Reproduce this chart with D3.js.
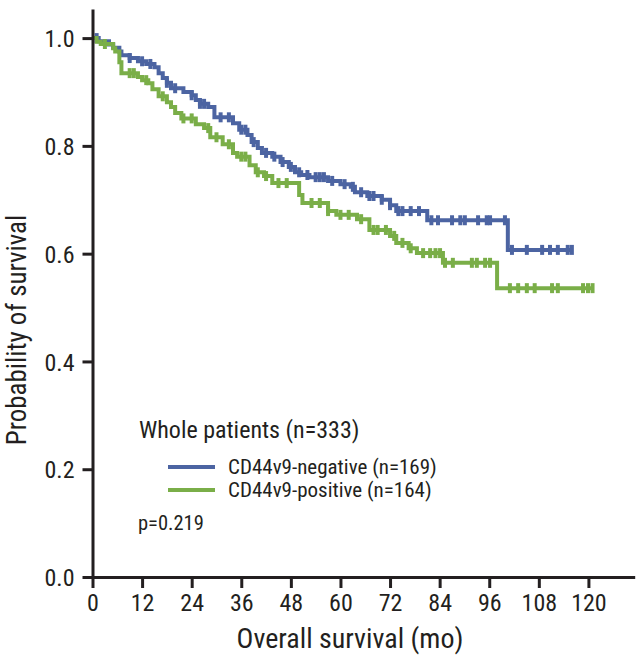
<!DOCTYPE html>
<html><head><meta charset="utf-8">
<script src="https://cdn.jsdelivr.net/npm/d3@7/dist/d3.min.js"></script>
<style>
html,body{margin:0;padding:0;background:#fff;}
svg text{font-family:"Liberation Sans Narrow","Arial Narrow","Roboto Condensed","Liberation Sans",sans-serif;fill:#231f20;}
</style></head>
<body><svg id="c" width="640" height="661"></svg>
<script>
// ---- data ----
const xTicks = [0,12,24,36,48,60,72,84,96,108,120];
const yTicks = [0,0.2,0.4,0.6,0.8,1.0];
const negativeSteps = [[0,1.0],[1.5,0.994],[4,0.988],[5,0.982],[6.5,0.975],[7,0.968],[9,0.963],[11,0.957],[13,0.952],[15,0.946],[16,0.935],[17,0.926],[18,0.917],[19,0.907],[22,0.9],[24,0.894],[25,0.885],[26,0.878],[28,0.872],[29.5,0.853],[34,0.842],[35.5,0.83],[37.5,0.82],[38.5,0.807],[40,0.796],[41,0.787],[43.5,0.78],[45.5,0.77],[47.5,0.761],[49,0.751],[50.5,0.746],[52.5,0.742],[57,0.735],[60,0.729],[62.5,0.724],[63.5,0.714],[66.5,0.707],[70,0.70],[72,0.69],[73.5,0.679],[81,0.662],[100.5,0.607]];
const negativeEnd = 116;
const negativeCensor = [1,9,12,14,18,20,24,26,27,31,33,36,37,39,42,44,46,48,50,52,54,55,56,58,61,63,65,67,68,70,72,74,75,77,79,82,83.6,87,89,90.1,93.3,95.4,96.2,99.8,101.5,105.1,108.8,110.7,112.6,115,116];
const positiveSteps = [[0,1.0],[1,0.993],[2,0.989],[5,0.981],[5.5,0.975],[6.5,0.955],[7,0.935],[11,0.928],[12,0.922],[13.5,0.916],[14.5,0.905],[16,0.892],[18,0.881],[19,0.872],[20,0.861],[21.5,0.851],[25,0.84],[27,0.833],[28.5,0.816],[31.5,0.803],[34,0.787],[35,0.78],[38,0.764],[39.5,0.751],[41.5,0.744],[43.5,0.731],[50,0.709],[50.8,0.694],[57,0.679],[59,0.672],[64,0.664],[67,0.644],[72,0.633],[73.5,0.62],[76.5,0.61],[78.5,0.601],[84.8,0.583],[97.9,0.536]];
const positiveEnd = 121;
const positiveCensor = [3,9,10,13,17,22,24,28,30,33,36,37,40,42,45,47,53,55,57,60,62,65,68,69,71,73,75,77,80,81.7,83,84.1,85.3,87.2,91.8,93,95,96.2,101,103,105.1,107,111.2,112.6,118.7,119.9,121];
const seriesNames = ["CD44v9-negative (n=169)","CD44v9-positive (n=164)"];
const seriesColors = ["#4c64a2","#7aae48"];

// ---- chart ----
const svg = d3.select("#c");
const x = d3.scaleLinear().domain([0,131.2]).range([92.5,634.7]);
const y = d3.scaleLinear().domain([0,1.054]).range([577,9]);
const ink = "#231f20";

const series = [
  {steps:negativeSteps,end:negativeEnd,censor:negativeCensor,color:seriesColors[0]},
  {steps:positiveSteps,end:positiveEnd,censor:positiveCensor,color:seriesColors[1]}
];
function sAt(steps,t){let s=steps[0][1];for(const p of steps){if(p[0]<=t)s=p[1];}return s;}
const line = d3.line().x(d=>x(d[0])).y(d=>y(d[1])).curve(d3.curveStepAfter);

series.forEach(sr=>{
  const pts = sr.steps.concat([[sr.end, sr.steps[sr.steps.length-1][1]]]);
  svg.append("path").attr("d",line(pts)).attr("fill","none")
    .attr("stroke",sr.color).attr("stroke-width",4);
  svg.append("g").selectAll("line").data(sr.censor).join("line")
    .attr("x1",d=>x(d)).attr("x2",d=>x(d))
    .attr("y1",d=>y(sAt(sr.steps,d))-5).attr("y2",d=>y(sAt(sr.steps,d))+5)
    .attr("stroke",sr.color).attr("stroke-width",4);
});

// axes
const xAxis = svg.append("g").attr("transform","translate(0,577)")
  .call(d3.axisBottom(x).tickValues(xTicks).tickSize(11).tickSizeOuter(0).tickPadding(6));
const yAxis = svg.append("g").attr("transform","translate(92.5,0)")
  .call(d3.axisLeft(y).tickValues(yTicks).tickFormat(d3.format(".1f")).tickSize(10).tickSizeOuter(0).tickPadding(8));
[xAxis,yAxis].forEach(g=>{
  g.select(".domain").attr("stroke",ink).attr("stroke-width",3);
  g.selectAll(".tick line").attr("stroke",ink).attr("stroke-width",3);
  g.selectAll(".tick text").attr("font-size",24).attr("fill",ink);
});
yAxis.selectAll(".tick text").attr("dy","0.36em");

svg.append("text").attr("x",350).attr("y",648).attr("text-anchor","middle")
  .attr("font-size",28).text("Overall survival (mo)");
svg.append("text").attr("transform","translate(26,330) rotate(-90)").attr("text-anchor","middle")
  .attr("font-size",27).text("Probability of survival");

// legend
svg.append("text").attr("x",139).attr("y",438).attr("font-size",24).text("Whole patients (n=333)");
seriesNames.forEach((n,i)=>{
  const yy = 467 + i*23;
  svg.append("line").attr("x1",168).attr("x2",215).attr("y1",yy).attr("y2",yy)
    .attr("stroke",seriesColors[i]).attr("stroke-width",4);
  svg.append("text").attr("x",228).attr("y",yy+7).attr("font-size",21).text(n);
});
svg.append("text").attr("x",138).attr("y",530).attr("font-size",20.5).text("p=0.219");
</script></body></html>
